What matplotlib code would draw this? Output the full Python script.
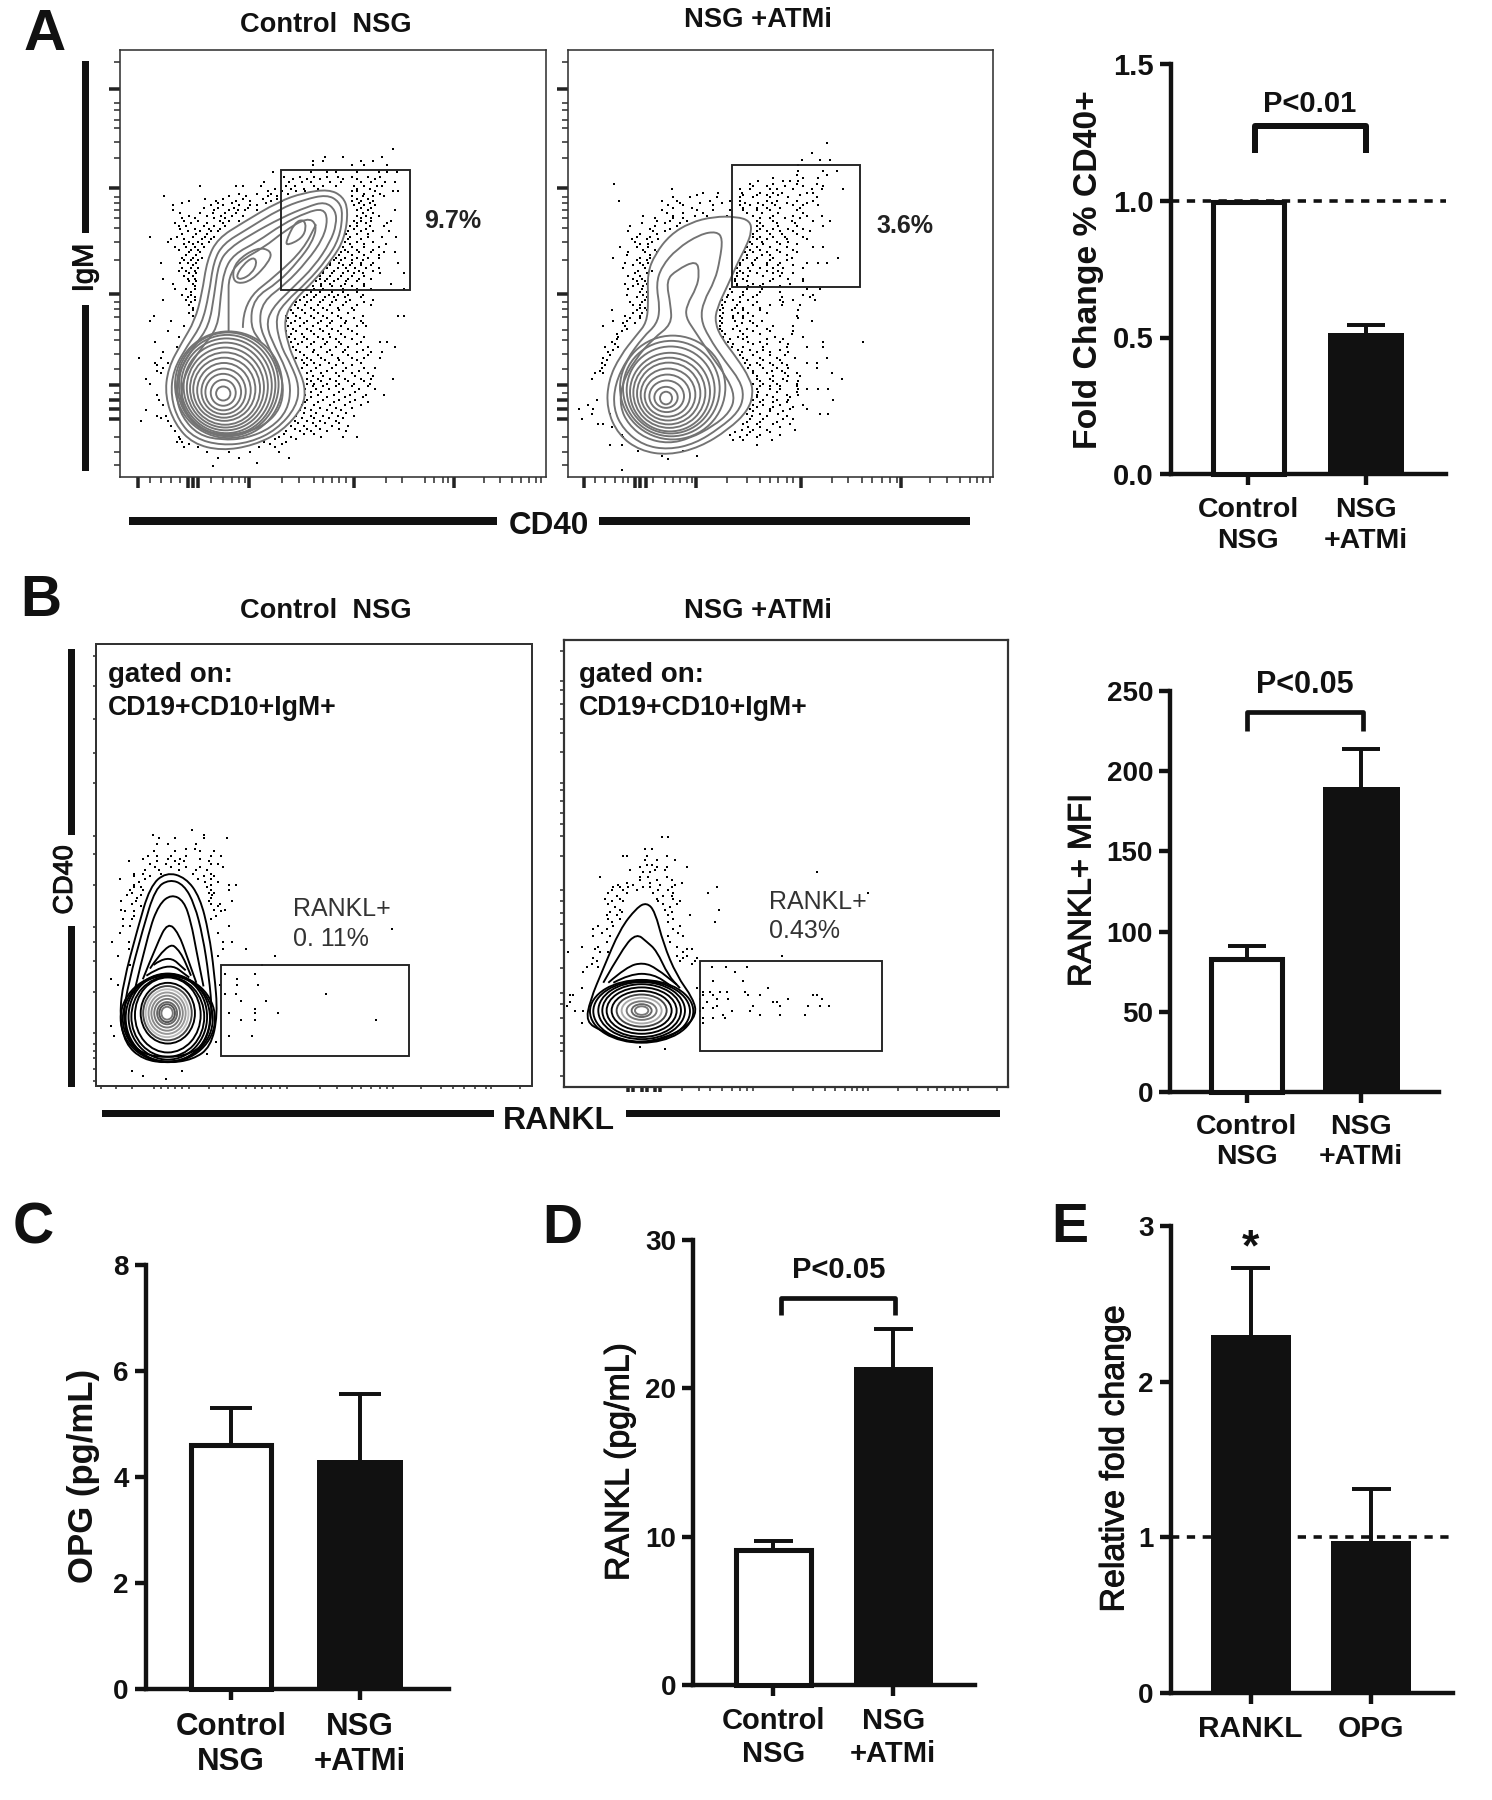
import matplotlib
matplotlib.use("Agg")
import matplotlib.pyplot as plt
import matplotlib.patheffects as pe
from matplotlib.patches import Ellipse, Rectangle, PathPatch
from matplotlib.path import Path

plt.rcParams['font.family'] = ['Liberation Sans', 'DejaVu Sans']
W, H = 1492, 1800
INK = '#111111'

# ---------- bar data ----------
GROUPS = ['Control\nNSG', 'NSG\n+ATMi']
A_VALUES = [0.995, 0.515]
A_ERR_TOP = [None, 0.546]
B_VALUES = [83, 190]
B_ERR_TOP = [91, 214]
C_VALUES = [4.60, 4.33]
C_ERR_TOP = [5.31, 5.56]
D_VALUES = [9.1, 21.4]
D_ERR_TOP = [9.7, 24.0]
E_CATS = ['RANKL', 'OPG']
E_VALUES = [2.30, 0.975]
E_ERR_TOP = [2.73, 1.31]

# ---------- flow cytometry data: channel units, rows of (y, [x...]) ----------
DOTS_A1 = [(424,[1100]),(448,[910,960,1070]),(458,[875,1010,905,1045]),(470,[875,985,1018,1085]),
(490,[765,870,915,940,1000,1060,1085,1112]),(505,[795,840,880,915,945,985,1030,1065]),
(518,[740,810,845,870,925,955,1010,1040,1078,1105]),(530,[560,680,660,730,800,825,880,905,940,990,1020,1055,1070]),
(545,[750,790,830,855,985,1000,1050,1100,1115]),(560,[460,640,690,750,775,985,1015,1045,1075]),
(572,[530,605,660,700,760,790,985,1010,1045]),(585,[485,590,625,670,700,720,990,1020,1050]),
(600,[485,600,640,665,685,720,1000,1030,1105]),(615,[530,580,620,650,680,1000,1025,1060]),
(630,[515,555,615,640,670,990,1010,1040,1095]),(645,[500,520,570,600,630,980,1000,1035,1075]),
(660,[525,560,590,610,975,1010,1045,1090]),(675,[420,495,540,575,600,980,1030,1070,1110]),
(690,[470,530,555,585,965,1000,1045]),(705,[490,520,545,570,960,985,1020,1060]),
(720,[530,560,955,975,1005,1040,1075,1105]),(735,[510,540,565,940,965,1000,1030,1060]),
(750,[450,505,525,550,925,950,985,1010,1045,1115]),(765,[510,535,555,915,945,970,995,1025,1060]),
(780,[530,550,905,930,960,990,1015,1065,1130]),(795,[455,525,545,895,915,945,975,1005,1040]),
(810,[485,540,900,925,965,1020,1095]),(825,[490,520,545,880,905,960,1000,1040,1130]),
(840,[510,535,860,885,920,945,975,1015]),(855,[455,520,545,840,870,905,940,980,1045]),
(870,[530,825,855,890,925,960,1000,1040]),(885,[540,815,845,880,915,950,990]),
(900,[430,540,800,830,870,905,945,1015,1115,1130]),(915,[420,480,800,825,860,900,930,970,1010]),
(930,[515,805,840,875,915,955,1000,1025]),(945,[470,800,830,870,905,945,985]),
(960,[500,810,850,890,925,965,1020]),(975,[435,815,845,880,915,950,1010,1065,1085]),
(990,[495,820,860,900,940,975,1030,1105]),(1005,[455,840,875,915,960,1000,1040,1070]),
(1020,[390,450,830,860,900,945,985,1020,1065]),(1035,[435,470,850,880,920,960,1010]),
(1050,[455,845,885,930,970,1020,1050]),(1065,[450,860,900,940,985,1030]),
(1080,[410,860,890,925,965,1010,1040,1100]),(1095,[420,860,880,915,950,990,1035]),
(1110,[855,885,920,960,1005,1050]),(1125,[440,855,890,935,980,1025,1075]),
(1140,[445,860,905,950,995]),(1155,[455,845,880,925,965,1010]),(1170,[410,840,870,915,955]),
(1185,[440,465,830,870,905,945,990]),(1200,[395,470,825,860,895,940]),(1215,[480,815,850,885,930,975]),
(1230,[490,800,840,870,915,970]),(1245,[500,780,815,1000,960,900]),(1260,[495,510,740,800]),
(1275,[515,555,725,770]),(1290,[580,640,700,780]),(1305,[610,670,810]),(1320,[720]),(1330,[597])]
DOTS_A1_MORE = [(512,[820,860,895,960,1000,1050]),(538,[770,815,850,890,1000,1035]),(552,[670,720,760,805,1020,1065]),
(567,[575,625,680,735,775,1000,1030]),(580,[510,610,650,745,1005,1035]),(593,[570,610,655,695,1010,1040]),
(608,[505,560,595,630,660,1015,1045]),(622,[510,545,600,630,1010,1040]),(637,[490,535,580,625,1000,1025,1085]),
(652,[505,545,585,615,990,1025]),(667,[510,550,580,970,1000,1030]),(682,[480,515,565,590,975,1010]),
(697,[515,540,565,980,1020,1080]),(712,[500,535,555,965,1000,1045]),(727,[520,550,950,985,1020,1060]),
(742,[515,535,555,935,955,985,1015]),(757,[540,925,960,980,1010,1040]),(772,[500,520,545,905,935,975,1005,1045]),
(787,[515,540,895,925,955,985,1020]),(802,[530,550,885,910,935,970,1000]),(817,[545,875,900,930,955,985,1020]),
(832,[535,870,895,930,960,1000]),(847,[525,545,850,880,910,935,965,1010]),(862,[535,830,860,895,930,970,1020]),
(877,[540,835,870,905,945,985]),(892,[530,820,855,890,930,975]),(907,[805,840,880,915,955,990]),
(922,[815,850,890,925,965,1015]),(937,[820,860,895,930,975]),(952,[815,845,880,920,955,1000]),
(967,[825,860,905,940,985]),(982,[835,870,910,955,1000]),(997,[830,880,925,965,1015]),(1012,[850,890,930,975,1030]),
(1027,[845,870,910,950,1000]),(1042,[440,860,895,940,985]),(1057,[440,870,915,960,1005]),(1072,[875,905,950,995,1045]),
(1087,[870,900,940,975,1020]),(1102,[875,905,940,985,1030]),(1117,[870,900,950,995]),(1132,[870,915,965,1015]),
(1147,[855,890,935,980,1030]),(1162,[855,895,940,985]),(1177,[850,885,930,970]),(1192,[450,845,880,920,960]),
(1207,[835,875,910,950]),(1222,[825,860,895,950]),(1237,[795,850,880]),(1252,[505,770,830]),(1267,[530,755,790])]

DOTS_A2 = [(408,[860]),(437,[815]),(457,[785,840,870]),(470,[775]),(488,[775,850,890]),(500,[770,860]),
(515,[655,730,750,775]),(525,[222,630,700,770,830]),(540,[395,600,630,690,710,760,815,845,910]),
(550,[535,490,605,660,700,725,800,820]),(562,[400,450,530,600,640,690,745,830]),
(572,[237,365,410,510,570,600,680,710,770,820]),(585,[385,430,520,600,630,670,705,760,790,835]),
(600,[365,470,520,570,610,650,690,770]),(615,[310,400,465,500,560,640,700,760,800,845]),
(630,[350,390,440,650,700,755,870,820]),(645,[270,345,410,650,670,715,770,850]),
(660,[265,340,375,650,680,720,760,810]),(675,[290,330,640,660,700,735,790]),(690,[285,335,630,665,710,745]),
(705,[240,290,325,620,650,690,740,850,820]),(720,[265,315,350,615,640,680,720,770]),
(735,[220,300,330,620,650,700,755,895]),(750,[255,300,325,600,635,680,720,800,835,860]),
(765,[250,315,590,625,660,700,730,790]),(780,[285,320,590,610,650,700,725,760]),
(795,[280,305,585,610,700,790,745]),(810,[255,295,320,590,640,670,750]),(825,[265,305,570,620,665,800,840]),
(840,[260,310,565,610,650,790,820]),(855,[315,545,580,625,720,760,825]),(870,[280,300,545,590,640,690,725,780]),
(885,[215,290,320,540,575,610,660,775]),(900,[300,255,540,580,610,640,770]),(915,[220,260,540,585,630,665,815]),
(930,[190,255,540,590,650,700,760]),(945,[245,545,600,640,690,760]),(960,[235,550,595,620,705,790]),
(975,[215,565,625,660,720,850,970]),(990,[195,235,575,610,670,740,800,850]),(1005,[205,605,650,690,745]),
(1020,[190,610,660,710,765,860]),(1035,[185,615,650,690,725,800,830]),(1050,[185,625,670,710,745,830]),
(1065,[165,190,640,680,735,770,875]),(1080,[155,650,690,730,905]),(1095,[640,670,710,770]),
(1110,[650,690,720,775,800,835,865]),(1125,[650,680,740,775]),(1140,[172,640,670,710,745,880]),
(1155,[145,640,670,720,790]),(1165,[118,160,630,690,750,800]),(1180,[155,210,620,660,715,840,865]),
(1195,[125,630,670,730,760]),(1210,[175,190,610,650,700,750]),(1225,[605,640,680,765]),
(1240,[245,570,620,660,720]),(1255,[580,610,695]),(1270,[210,245,650]),(1285,[295,430]),(1300,[470,365]),
(1310,[385]),(1340,[247])]
DOTS_A2_MORE = [(508,[700,790,835]),(532,[640,680,735,790,850]),(556,[470,610,650,680,715,780]),
(578,[420,480,545,615,655,695,740,800]),(592,[400,455,610,650,680,720,780]),(608,[380,430,490,620,665,715,790]),
(622,[345,400,430,660,690,735,780]),(637,[305,375,420,660,710,765]),(652,[330,390,660,700,745,790]),
(667,[300,350,640,690,725,770]),(682,[275,320,355,650,680,740,800]),(697,[325,300,635,670,720,770]),
(712,[310,345,630,660,710,760]),(727,[260,330,620,665,690,740]),(742,[290,320,610,645,690,740]),
(757,[280,310,600,640,680,715,760]),(772,[295,335,600,630,680,715]),(787,[265,300,590,625,670,720]),
(802,[290,315,585,620,690,790]),(817,[280,310,590,625,660,720]),(832,[300,320,575,610,660,720]),
(847,[290,320,560,600,640,725,810]),(862,[270,305,555,600,650,730]),(877,[300,315,550,585,610,660]),
(892,[280,305,550,595,625,680]),(907,[270,300,545,580,610,775]),(922,[250,285,545,605,640]),(937,[260,540,580,620,680]),
(952,[230,555,610,660,755]),(967,[230,570,610,680,730]),(982,[225,580,640,680,745]),(997,[220,595,630,670,720]),
(1012,[210,600,640,690,735]),(1027,[200,620,670,720]),(1042,[195,630,660,700,740]),(1057,[180,640,695,725]),
(1072,[650,700,745,780]),(1087,[660,700,740,775]),(1102,[660,690,720,770]),(1117,[655,710,770]),(1132,[650,700,750]),
(1147,[660,700,740]),(1160,[650,700,760]),(1172,[640,690,730]),(1187,[635,680,740]),(1202,[620,660,710]),
(1218,[215,625,660,720]),(1232,[585,630,690]),(1247,[250,600,650])]

DOTS_B1 = [(672,[538]),(685,[428,570]),(695,[445,490,570,635]),(712,[440,470,550]),(725,[520,545]),
(745,[415,440,480,520,590,620]),(760,[360,440,490,515,585]),(775,[435,480,520,560,625]),
(795,[375,400,450,540,590]),(810,[335,405,555,590]),(825,[375,590,640,660]),(840,[365,400,590,640]),
(855,[355,395,595]),(870,[340,380,585,650]),(885,[395,610]),(900,[350,375,620]),(920,[345,370,590]),
(940,[345,365,640]),(950,[1098]),(960,[335,610]),(985,[315,360,625,650]),(1005,[360,625,690]),(1025,[330,770,610]),
(1050,[365,735]),(1075,[630,715]),(1090,[310,665]),(1105,[330,615,665,722]),(1130,[630,660,912]),
(1150,[675,745]),(1172,[715]),(1185,[640,778,715]),(1205,[675,715,1052]),(1220,[310]),(1248,[320,640,705]),
(1265,[605]),(1300,[580]),(1348,[370,510]),(1360,[400]),(1370,[465])]
DOTS_B1_MORE = [(730,[430,490,560,600]),(752,[400,470,505,560]),(767,[420,465,500,590,610]),(785,[405,445,500,550,580]),
(802,[375,420,570,600]),(818,[390,575,610]),(833,[375,395,580]),(848,[370,585,600]),(863,[385,590]),
(878,[370,590,615]),(895,[340,600,630]),(912,[375,605])]

DOTS_B2 = [(693,[365,385]),(725,[315,335]),(745,[250,260,320,380]),(757,[315,350,405]),(775,[300,350,380,440]),
(790,[830,310,330]),(805,[180,300,325,380]),(820,[260,330,425]),(832,[220,240,265,310,330,395,530]),
(848,[205,260,340,400,505,985]),(865,[195,240,350,400]),(880,[205,370,410]),(895,[240,375,537]),
(910,[200,230,385,450]),(930,[215,385,525]),(950,[160,200,400]),(970,[160,210,385,430]),(985,[200,390]),
(1000,[127,175,410]),(1015,[180,205,85,430]),(1025,[725,410,440]),(1040,[170,420,465]),
(1055,[140,175,515,558,620]),(1070,[130,585]),(1095,[520,610]),(1115,[125,470,685]),(1125,[540,560,615]),
(1135,[90,100,490,520,625,660,820,830]),(1145,[480,530,565,745,845]),(1155,[90,500,710,700]),
(1165,[80,530,640,720,805,868,840]),(1180,[105,130,480,575,630]),(1190,[550,660,720,795]),
(1200,[490,520,555]),(1212,[490,125]),(1280,[300]),(1285,[375])]
DOTS_B2_MORE = [(770,[320,335]),(785,[270,345,375]),(812,[300,350,395]),(826,[235,280,360,405]),(840,[215,250,290,355,385]),
(856,[230,370,395]),(872,[215,250,355,420]),(888,[225,390]),(903,[210,245,395]),(922,[205,240,400]),(940,[175,220,420]),
(960,[185,415]),(1005,[165,440,455]),(1030,[160,430,470]),(1048,[155,455]),(1125,[490,510]),(1172,[490,520])]

CONT_A1 = [
[(620,1285),(540,1265),(490,1210),(462,1130),(470,1050),(510,975),(545,915),(565,840),(580,740),(610,680),(680,635),(780,575),(850,550),(920,540),(960,560),(975,600),(965,680),(930,740),(880,800),(820,860),(795,910),(805,980),(830,1040),(855,1100),(850,1160),(790,1230),(710,1270),(620,1285)],
[(620,1270),(545,1250),(500,1200),(478,1130),(485,1055),(525,985),(565,925),(585,840),(598,745),(625,695),(690,655),(785,595),(850,570),(915,555),(950,575),(960,610),(950,680),(915,740),(860,805),(800,860),(770,905),(785,985),(815,1040),(838,1100),(830,1160),(775,1225),(700,1262),(620,1270)],
[(620,1255),(555,1240),(510,1190),(492,1130),(500,1060),(545,985),(585,930),(600,840),(612,750),(640,710),(700,670),(790,620),(860,590),(910,575),(940,600),(942,640),(925,690),(880,760),(820,820),(760,880),(745,930),(770,990),(800,1050),(815,1105),(805,1170),(760,1220),(690,1250),(620,1255)],
[(620,1240),(560,1225),(520,1180),(505,1125),(520,1060),(565,990),(610,935),(618,840),(628,770),(655,725),(720,690),(790,640),(860,605),(905,595),(918,625),(905,680),(860,745),(800,810),(735,860),(725,925),(750,985),(780,1050),(795,1105),(785,1165),(745,1210),(685,1235),(620,1240)],
[(640,945),(640,850),(640,790),(670,745),(740,705),(795,660),(860,620),(888,640),(875,690),(835,745),(780,805),(710,850),(700,930),(730,975)],
[(800,690),(825,635),(850,625),(858,650),(845,680),(805,700),(800,690)],
[(660,790),(680,755),(710,732),(720,750),(705,780),(675,798),(660,790)],
[(650,790),(660,745),(720,705),(760,715),(755,745),(705,800),(665,810),(650,790)],
[(680,935),(680,860),(780,780),(850,710),(885,640)]]
RINGS_A1 = [(625,1122,20,20),(625,1120,35,37),(625,1118,50,52),(626,1116,62,65),(627,1113,75,78),(628,1110,87,90),(630,1108,98,103),(631,1105,108,114),(632,1102,118,125),(634,1100,127,135),(636,1098,135,143),(638,1096,142,148),(640,1097,150,152)]

CONT_A2 = [
[(385,1298),(300,1285),(235,1240),(200,1165),(205,1085),(240,1015),(290,955),(320,920),(325,860),(322,780),(345,725),(390,670),(450,635),(520,618),(590,618),(630,630),(635,660),(620,700),(595,745),(565,810),(530,880),(525,920),(545,965),(590,1020),(630,1080),(640,1120),(625,1170),(565,1225),(480,1275),(385,1298)],
[(385,1282),(310,1270),(250,1225),(220,1165),(225,1095),(260,1025),(310,960),(350,925),(360,880),(348,810),(365,760),(410,710),(480,668),(530,660),(548,680),(540,740),(525,800),(490,860),(482,910),(505,960),(555,1030),(600,1085),(612,1130),(595,1175),(540,1220),(465,1265),(385,1282)],
[(385,1265),(315,1250),(265,1210),(240,1160),(245,1095),(285,1025),(340,965),(395,925),(392,870),(378,800),(410,770),(470,742),(478,780),(470,820),(440,870),(437,905),(465,945),(510,1010),(560,1075),(585,1130),(570,1175),(520,1215),(450,1250),(385,1265)]]
RINGS_A2 = [(378,1135,18,18),(378,1133,35,30),(380,1130,52,45),(382,1128,68,60),(384,1125,82,74),(386,1122,95,88),(388,1120,108,100),(390,1118,120,112),(392,1112,132,124),(394,1108,145,136),(398,1105,158,148)]

CONT_B1 = [
[(470,1325),(400,1315),(350,1270),(335,1190),(345,1100),(385,950),(420,830),(465,790),(520,805),(560,860),(585,960),(600,1070),(610,1190),(590,1280),(540,1315),(470,1325)],
[(470,1310),(400,1300),(358,1260),(345,1190),(360,1100),(400,950),(435,835),(475,810),(515,825),(545,880),(568,970),(585,1080),(595,1190),(575,1270),(530,1300),(470,1310)],
[(375,1130),(415,960),(445,880),(480,852),(515,870),(535,930),(550,1010),(570,1110)],
[(400,1090),(440,990),(470,930),(500,960),(525,1030),(550,1100)],
[(420,1060),(470,985),(505,1010),(535,1080)],
[(430,1050),(470,1020),(520,1065)],
[(410,1080),(470,1040),(530,1085)]]
RINGS_B1 = [(468,1185,16,18),(468,1185,22,25),(468,1185,28,31),(468,1185,36,40),(468,1185,44,49),(468,1185,52,58),(468,1185,60,67),(469,1185,68,76),(470,1185,76,85),(470,1190,92,105),(470,1195,102,112),(470,1195,110,120),(470,1198,118,124),(470,1200,126,120),(470,1200,132,122)]
RING_SHADES_B1 = ['#777777','#555555','#666666','#777777','#888888','#999999','#bbbbbb','#444444','#000000','#000000','#000000','#000000','#000000','#000000','#000000']

CONT_B2 = [
[(300,1268),(250,1262),(185,1235),(138,1210),(150,1150),(190,1060),(240,950),(290,890),(320,875),(345,900),(370,990),(410,1080),(460,1145),(470,1190),(430,1230),(370,1255),(300,1268)],
[(190,1100),(250,1000),(290,962),(320,985),(350,1010),(385,1080),(420,1115)],
[(205,1100),(260,1055),(310,1043),(350,1060),(410,1105)],
[(220,1100),(270,1075),(340,1075),(395,1110)]]
RINGS_B2 = [(305,1178,20,12),(305,1178,30,18),(305,1178,45,26),(305,1178,60,36),(305,1178,75,45),(305,1178,90,55),(305,1178,105,65),(305,1178,118,74),(305,1178,130,80),(305,1180,145,85),(305,1180,155,88)]
RING_SHADES_B2 = ['#777777','#666666','#777777','#aaaaaa','#444444','#000000','#000000','#000000','#000000','#000000','#000000']

GATE_A1 = (788, 485, 1147, 828)
GATE_A2 = (577, 470, 960, 818)
GATE_B1 = (618, 1050, 1146, 1306)
GATE_B2 = (480, 1040, 1025, 1290)

A_Y_MAJOR = [255,535,838,1097,1140,1165,1195]
A_Y_MINOR = [178,295,315,342,365,405,452,562,580,600,622,650,690,742,862,880,905,940,970,1010,1052,1120,1245,1290,1325]
A1_X_MAJOR = [385,697,990,1270,525,540,555]
A1_X_MINOR = [420,450,480,505,590,625,650,670,685,790,838,878,905,930,950,970,1080,1125,1190,1215,1240,1255,1355,1400,1435,1460,1480,1500,1515]
A2_X_MAJOR = [133,468,782,1083,285,300,318]
A2_X_MINOR = [165,195,225,250,265,340,375,400,420,440,455,560,620,660,690,715,740,760,875,925,965,995,1025,1050,1070,1170,1220,1260,1290,1310,1330,1350]
B1_Y_MINOR = [185,268,360,455,540,690,740,825,945,985,1040,1125,1240,1270,1290,1310,1340,1375]
B1_X_MINOR = [283,325,370,430,450,470,490,510,530,585,625,660,690,715,735,760,785,805,895,945,985,1010,1040,1065,1085,1100,1180,1235,1270,1300,1330,1360,1375,1455]
B2_Y_MINOR = [170,255,280,320,360,400,455,540,560,590,625,655,690,745,840,870,905,935,980,1060,1130,1160,1200,1250,1270,1290,1360]
B2_X_MAJOR = [265,280,305,320,345,360]
B2_X_MINOR = [425,478,510,545,575,600,620,640,760,820,855,885,915,935,950,970,985,1075,1130,1165,1190,1215,1240,1260,1285,1370]

fig = plt.figure(figsize=(W / 100, H / 100), dpi=100, facecolor='white')


def pt(px):
    return px * 0.72


def ax_px(x0, y0, x1, y1):
    return fig.add_axes([x0 / W, 1 - y1 / H, (x1 - x0) / W, (y1 - y0) / H])


def ftext(x, y, s, size, weight='bold', rot=0, color=INK, heavy=False):
    t = fig.text(x / W, 1 - y / H, s, fontsize=size, fontweight=weight, rotation=rot,
                 ha='center', va='center', color=color)
    if heavy:
        t.set_path_effects([pe.withStroke(linewidth=0.7, foreground=color)])


def fbar(x0, y0, x1, y1):
    fig.add_artist(Rectangle((x0 / W, 1 - y1 / H), (x1 - x0) / W, (y1 - y0) / H,
                             transform=fig.transFigure, fc=INK, ec='none'))


def contour_patch(c, col, lw):
    """Round a traced outline with quadratic curves through the midpoints of its corners."""
    closed = c[0] == c[-1]
    pts = c[:-1] if closed else c
    verts, codes = [], []
    n = len(pts)
    mid = lambda a, b: ((a[0] + b[0]) / 2, (a[1] + b[1]) / 2)
    if closed:
        verts.append(mid(pts[-1], pts[0]))
        codes.append(Path.MOVETO)
        for i in range(n):
            verts += [pts[i], mid(pts[i], pts[(i + 1) % n])]
            codes += [Path.CURVE3, Path.CURVE3]
    else:
        verts.append(pts[0])
        codes.append(Path.MOVETO)
        for i in range(1, n - 1):
            verts += [pts[i], mid(pts[i], pts[i + 1])]
            codes += [Path.CURVE3, Path.CURVE3]
        verts.append(pts[-1])
        codes.append(Path.LINETO)
    return PathPatch(Path(verts, codes), fill=False, ec=col, lw=lw, zorder=3)


def flow(box, xlim, ylim, dots, conts, rings, gate, ymaj, ymin, xmaj, xmin, line, ms=2.4,
         shades=None, tick=(11, 6), frame=1.6, cw=1.9):
    ax = ax_px(*box)
    ax.set_xlim(*xlim)
    ax.set_ylim(*ylim)
    for s in ax.spines.values():
        s.set_linewidth(pt(frame))
        s.set_color('#333333')
    xs = [x for _, row in dots for x in row]
    ys = [y for y, row in dots for _ in row]
    ax.scatter(xs, ys, s=ms, marker='s', c='black', linewidths=0, zorder=2)
    for c in conts:
        ax.add_patch(contour_patch(c, line, pt(cw)))
    for i, (cx, cy, rx, ry) in enumerate(rings):
        col = shades[i] if shades else line
        ax.add_patch(Ellipse((cx, cy), 2 * rx, 2 * ry, fill=False, ec=col, lw=pt(cw), zorder=3))
    g = gate
    ax.add_patch(Rectangle((g[0], g[1]), g[2] - g[0], g[3] - g[1], fill=False, ec='#222222', lw=pt(1.9), zorder=4))
    ax.set_yticks(ymaj)
    ax.set_yticks(ymin, minor=True)
    ax.set_xticks(xmaj)
    ax.set_xticks(xmin, minor=True)
    ax.tick_params(which='major', length=pt(tick[0]), width=pt(3.5), labelleft=False, labelbottom=False, color='#222222')
    ax.tick_params(which='minor', length=pt(tick[1]), width=pt(1.6), color='#333333')
    return ax


def bars(x0, x1, ytop, ybot, ymax, c0, c1, outer, values, errtop, fills, yticks, yfmt, xlabels, capw,
         tick_fs, x_fs, ylabel, yl_fs, yl_w, yl_x, yl_y, xlab_pad, lw=4.4, bracket=None, dash=False):
    ax = ax_px(x0, ytop, x1, ybot)
    unit = c1 - c0
    ax.set_xlim((x0 - c0) / unit, (x1 - c0) / unit)
    ax.set_ylim(0, ymax)
    for s in ('top', 'right'):
        ax.spines[s].set_visible(False)
    for s in ('left', 'bottom'):
        ax.spines[s].set_linewidth(pt(lw))
        ax.spines[s].set_color(INK)
    pos = [0, 1]
    edge = lw * 1.15
    for i in pos:
        white = fills[i] == 'white'
        w = (outer - (edge if white else 0)) / unit
        if errtop[i] is not None:
            ax.plot([i, i], [values[i], errtop[i]], color=INK, lw=pt(lw * .9), solid_capstyle='butt', zorder=2)
            ax.plot([i - capw / 2 / unit, i + capw / 2 / unit], [errtop[i]] * 2, color=INK, lw=pt(lw * .9),
                    solid_capstyle='butt', zorder=2)
        ax.bar(i, values[i], width=w, color=fills[i], edgecolor=INK if white else 'none',
               linewidth=pt(edge) if white else 0, zorder=3, clip_on=False)
    if dash:
        ax.axhline(1, color=INK, lw=pt(3.6), dashes=(2.3, 2.1), zorder=4, clip_on=False)
    if bracket:
        bx0, bx1, by0, by1, blw, txt, tx, ty, tfs = bracket
        ax.plot([(bx0 - c0) / unit] * 2 + [(bx1 - c0) / unit] * 2, [by0, by1, by1, by0], color=INK,
                lw=pt(blw), solid_joinstyle='round', solid_capstyle='butt', clip_on=False)
        ftext(tx, ty, txt, tfs)
    ax.set_yticks(yticks)
    ax.set_yticklabels([yfmt % t for t in yticks], fontsize=tick_fs, fontweight='bold', color=INK)
    ax.set_xticks(pos)
    ax.set_xticklabels(xlabels, fontsize=x_fs, fontweight='bold', color=INK, linespacing=1.22)
    ax.tick_params(axis='both', length=pt(11), width=pt(lw), color=INK)
    ax.tick_params(axis='y', pad=pt(6))
    ax.tick_params(axis='x', pad=pt(xlab_pad))
    ftext(yl_x, yl_y, ylabel, yl_fs, yl_w, rot=90, heavy=yl_w == 'normal')
    return ax


# ---------- flow panels ----------
flow((120.4, 50, 546.4, 477), (337, 1530), (1360, 143), DOTS_A1 + DOTS_A1_MORE, CONT_A1, RINGS_A1, GATE_A1,
     A_Y_MAJOR, A_Y_MINOR, A1_X_MAJOR, A1_X_MINOR, '#737373')
flow((567.7, 50, 993.3, 477), (83, 1360), (1360, 143), DOTS_A2 + DOTS_A2_MORE, CONT_A2, RINGS_A2, GATE_A2,
     A_Y_MAJOR, A_Y_MINOR, A2_X_MAJOR, A2_X_MINOR, '#737373')
flow((96.4, 643.6, 532, 1086.4), (270, 1490), (1390, 150), DOTS_B1 + DOTS_B1_MORE, CONT_B1, RINGS_B1, GATE_B1,
     [], B1_Y_MINOR, [], B1_X_MINOR, '#000000', ms=2.0, shades=RING_SHADES_B1, tick=(4, 3), frame=2.0)
flow((564.3, 640, 1008.3, 1087), (73, 1405), (1392, 140), DOTS_B2 + DOTS_B2_MORE, CONT_B2, RINGS_B2, GATE_B2,
     B2_X_MAJOR[:0], B2_Y_MINOR, B2_X_MAJOR, B2_X_MINOR, '#000000', ms=2.0, shades=RING_SHADES_B2, tick=(5, 4), frame=2.2)

# flow annotations
ftext(325.7, 25, 'Control  NSG', 19.6)
ftext(758.3, 20.3, 'NSG +ATMi', 19.7)
ftext(325.7, 610.7, 'Control  NSG', 19.6)
ftext(758.3, 610.7, 'NSG +ATMi', 19.7)
ftext(453, 221, '9.7%', 18, color='#222222')
ftext(905, 226, '3.6%', 18, color='#222222')
ftext(84.6, 268, 'IgM', 21, 'normal', rot=90, heavy=True)
ftext(549, 526, 'CD40', 22.6)
ftext(65, 880, 'CD40', 19.5, 'normal', rot=90, heavy=True)
ftext(559, 1121, 'RANKL', 23)
fbar(82.2, 61.4, 89.2, 233); fbar(82.2, 305, 89.2, 470.7)
fbar(128.6, 517, 497.5, 525); fbar(599, 517, 970, 525)
fbar(67.9, 649, 74.9, 835); fbar(67.9, 925.7, 74.9, 1087)
fbar(101.8, 1109.5, 493.6, 1116.5); fbar(626, 1109.5, 1000, 1116.5)


def left(x, y, s, size, weight, color=INK):
    fig.text(x / W, 1 - y / H, s, fontsize=size, fontweight=weight, ha='left', va='center', color=color)


left(108, 675, 'gated on:', 20, 'bold')
left(108, 708, 'CD19+CD10+IgM+', 19.2, 'bold')
left(579, 675, 'gated on:', 20, 'bold')
left(579, 708, 'CD19+CD10+IgM+', 19.2, 'bold')
left(293, 909, 'RANKL+', 18, 'normal', '#333333')
left(293, 939, '0. 11%', 18, 'normal', '#333333')
left(769, 902, 'RANKL+', 18, 'normal', '#333333')
left(769, 931, '0.43%', 18, 'normal', '#333333')

# ---------- bar panels ----------
F2 = ['white', INK]
bars(1170.7, 1446, 63.7, 474.4, 1.5, 1248.3, 1366, 76, A_VALUES, A_ERR_TOP, F2, [0, .5, 1, 1.5], '%.1f', GROUPS, 38,
     21, 20.5, 'Fold Change % CD40+', 24.3, 'bold', 1089, 270, 12,
     bracket=(1255, 1365.7, 1.175, 1.272, 6, 'P<0.01', 1310, 103.6, 21), dash=True)
bars(1170, 1439, 691.2, 1091.8, 250, 1246.7, 1361.3, 76.5, B_VALUES, B_ERR_TOP, F2, [0, 50, 100, 150, 200, 250], '%d', GROUPS, 38,
     20, 20.5, 'RANKL+ MFI', 23.5, 'normal', 1082, 890.7, 11,
     bracket=(1246.7, 1362.7, 225, 237, 4.7, 'P<0.05', 1305, 684.8, 22))
bars(145.7, 449, 1265, 1689, 8, 231, 360.3, 86, C_VALUES, C_ERR_TOP, F2, [0, 2, 4, 6, 8], '%d', GROUPS, 42,
     20, 22.5, 'OPG (pg/mL)', 25, 'bold', 84, 1476.3, 12)
bars(693.3, 975, 1239.6, 1685.4, 30, 773.3, 893.3, 79.5, D_VALUES, D_ERR_TOP, F2, [0, 10, 20, 30], '%d', GROUPS, 38.7,
     20, 21, 'RANKL (pg/mL)', 24.4, 'normal', 620, 1462.3, 11,
     bracket=(780.7, 895.3, 24.9, 26.07, 4.7, 'P<0.05', 838.3, 1270.3, 21))
bars(1170.7, 1453.3, 1225.9, 1692.8, 3, 1250.7, 1371.3, 80, E_VALUES, E_ERR_TOP, [INK, INK], [0, 1, 2, 3], '%d', E_CATS, 39,
     20, 21.5, 'Relative fold change', 24.4, 'normal', 1115, 1459, 11, dash=True)
ftext(1250, 1249, '*', 32)

# panel letters
for s, x, y, fs in [('A', 45, 35, 42), ('B', 41, 601, 41), ('C', 33, 1228, 41), ('D', 562, 1229, 40), ('E', 1070, 1228, 40)]:
    ftext(x, y, s, fs)

fig.savefig('out.png', dpi=100, facecolor='white')
